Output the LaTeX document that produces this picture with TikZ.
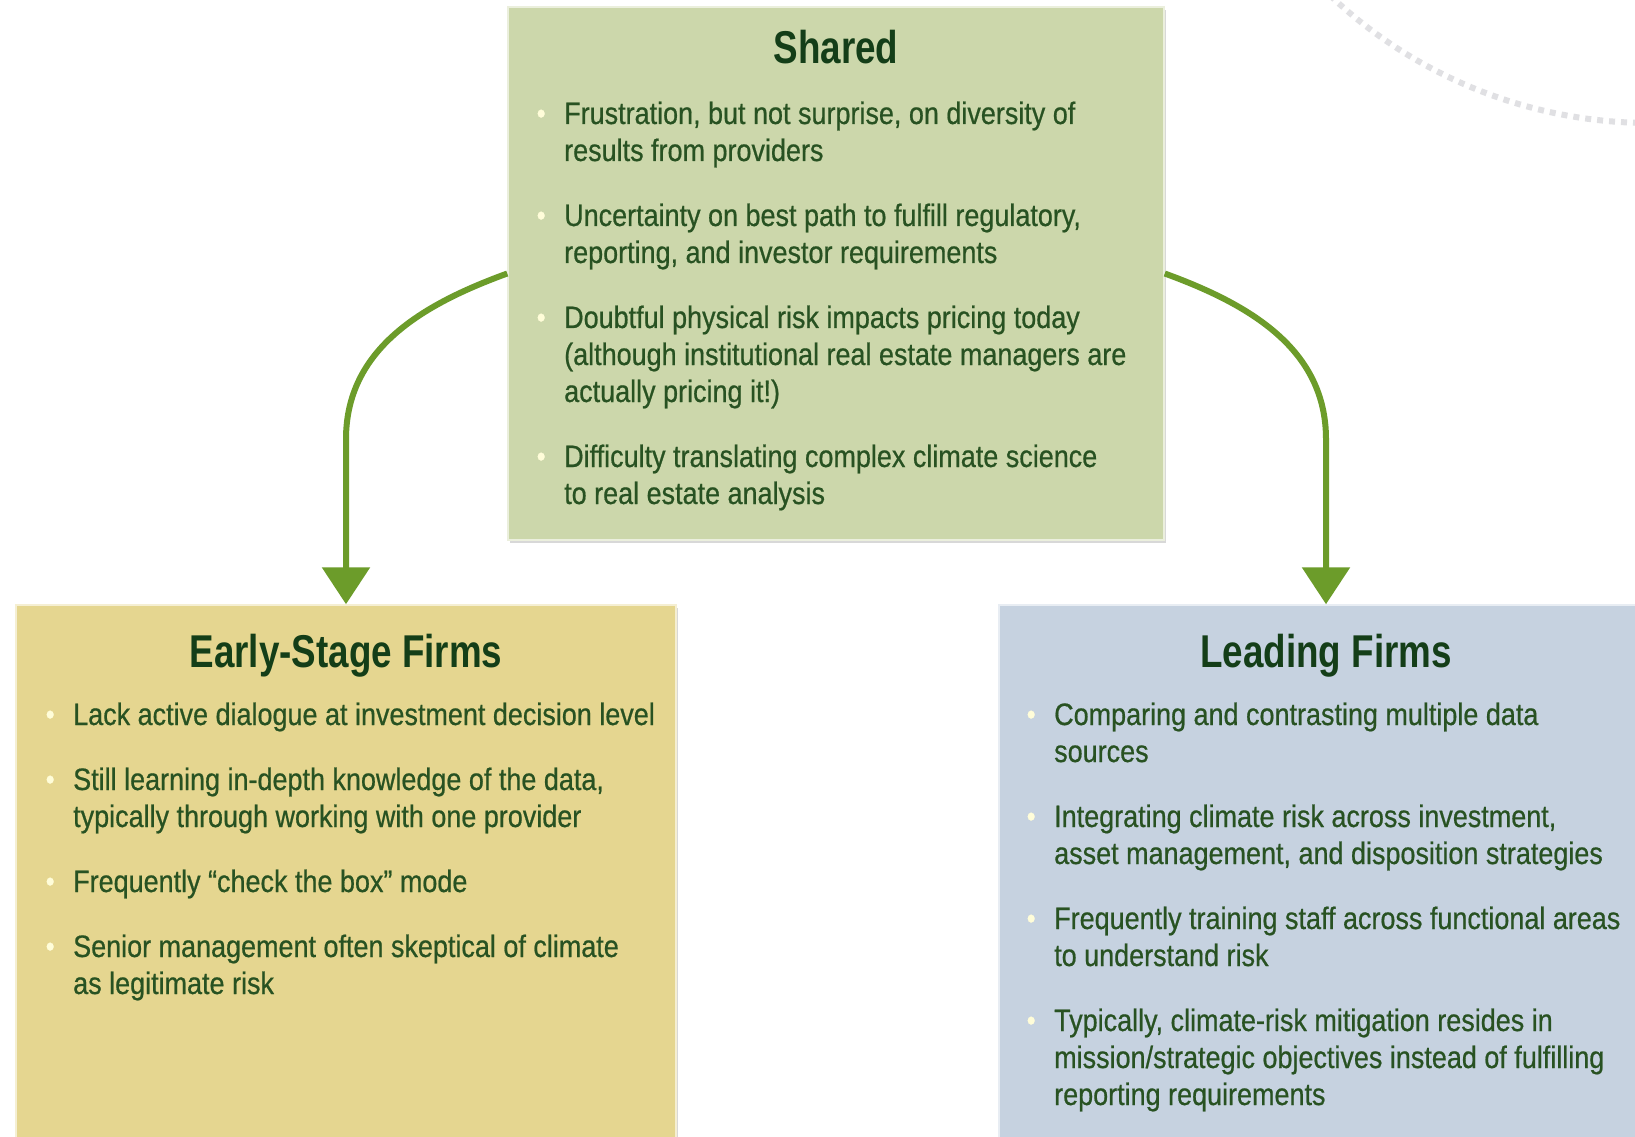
\documentclass[tikz,border=0pt]{standalone}
\usepackage{fontspec}
\setmainfont{Liberation Sans}[FakeStretch=0.80]
\newfontfamily\bodyfont{Liberation Sans}[FakeStretch=0.87, FakeBold=0.6]
\usetikzlibrary{arrows.meta,shadows}
\definecolor{sharedfill}{RGB}{204,215,171}
\definecolor{earlyfill}{RGB}{229,214,144}
\definecolor{leadfill}{RGB}{198,210,224}
\definecolor{fontgreen}{RGB}{40,82,34}
\definecolor{titlegreen}{RGB}{20,62,24}
\definecolor{arrowgreen}{RGB}{108,156,42}
\definecolor{dotgray}{RGB}{224,224,227}
\tikzset{
  panel/.style={draw=white!60!#1, line width=1.5pt, fill=#1, inner sep=0pt,
    drop shadow={opacity=0.3, shadow xshift=2pt, shadow yshift=-3pt}},
  headline/.style={font=\fontsize{46}{52}\selectfont\bfseries, text=titlegreen,
    anchor=base, inner sep=0pt},
  points/.style={font=\fontsize{31}{37}\bodyfont, text=fontgreen,
    anchor=base west, inner sep=0pt},
  flow/.style={arrowgreen, line width=6pt, -{Triangle[width=47pt,length=37pt]}},
}
\newcommand{\blt}{\llap{\makebox[46pt]{\textcolor{white!85!yellow}{\raisebox{0.02em}{\scalebox{0.95}{\textbullet}}}}}}

\begin{document}
\begin{tikzpicture}[x=1pt,y=1pt]
\useasboundingbox (0,0) rectangle (1635,-1137);
\fill[white] (0,0) rectangle (1635,-1137);
% dotted arc, top right
\draw[dotgray, line width=6pt, dash pattern=on 6pt off 6pt]
  (1650,342) ++(226.5:465) arc[start angle=226.5, end angle=275, radius=465];
% boxes
\node[panel=sharedfill, minimum width=656pt, minimum height=533pt] (shared) at (836,-273.5) {};
\node[panel=earlyfill, minimum width=660pt, minimum height=545pt] (early) at (346,-877.5) {};
\node[panel=leadfill, minimum width=654pt, minimum height=545pt] (leading) at (1326,-877.5) {};
% titles
\node[headline] (sharedtitle) at (836,-64) {Shared};
\node[headline] (earlytitle) at (346,-667) {Early-Stage Firms};
\node[headline] (leadingtitle) at (1326,-667) {Leading Firms};
% bullet lists
\node[points] (sharedlist) at (564,-124) {\begin{tabular}[t]{@{}l@{}}
\blt Frustration, but not surprise, on diversity of\\
results from providers\\[28pt]
\blt Uncertainty on best path to fulfill regulatory,\\
reporting, and investor requirements\\[28pt]
\blt Doubtful physical risk impacts pricing today\\
(although institutional real estate managers are\\
actually pricing it!)\\[28pt]
\blt Difficulty translating complex climate science\\
to real estate analysis
\end{tabular}};
\node[points] (earlylist) at (73,-725) {\begin{tabular}[t]{@{}l@{}}
\blt Lack active dialogue at investment decision level\\[28pt]
\blt Still learning in-depth knowledge of the data,\\
typically through working with one provider\\[28pt]
\blt Frequently “check the box” mode\\[28pt]
\blt Senior management often skeptical of climate\\
as legitimate risk
\end{tabular}};
\node[points] (leadinglist) at (1054,-725) {\begin{tabular}[t]{@{}l@{}}
\blt Comparing and contrasting multiple data\\
sources\\[28pt]
\blt Integrating climate risk across investment,\\
asset management, and disposition strategies\\[28pt]
\blt Frequently training staff across functional areas\\
to understand risk\\[28pt]
\blt Typically, climate-risk mitigation resides in\\
mission/strategic objectives instead of fulfilling\\
reporting requirements
\end{tabular}};
% arrows
\draw[flow] (shared.west) to[out=200,in=90] ([yshift=165pt]early.north) -- (early.north);
\draw[flow] (shared.east) to[out=-20,in=90] ([yshift=165pt]leading.north) -- (leading.north);
\end{tikzpicture}
\end{document}
